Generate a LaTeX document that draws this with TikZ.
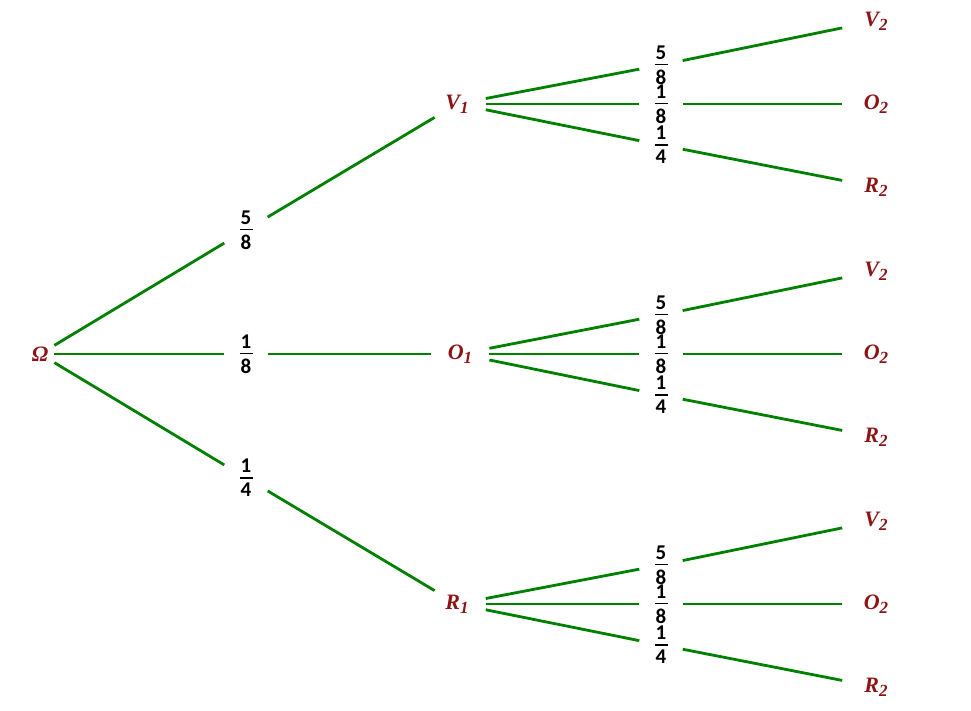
\documentclass[tikz,border=0pt]{standalone}
\usepackage{fontspec}
\setmainfont{Liberation Serif}
\newfontfamily\fracfont{Carlito}

\definecolor{branchgreen}{RGB}{0,128,0}
\definecolor{eventred}{RGB}{140,20,20}

\newcommand{\sub}[1]{\raisebox{-4pt}{\fontsize{17}{17}\selectfont #1}}
\newcommand{\fr}[2]{\vbox{\hbox to 13pt{\hss#1\hss}\kern4.5pt\hrule height 1.6pt\kern4.5pt\hbox to 13pt{\hss#2\hss}}}

\tikzset{
  event/.style={text=eventred,font=\fontsize{22}{24}\selectfont\bfseries\itshape,inner xsep=17pt,inner ysep=4pt},
  leaf/.style={event,inner xsep=22pt},
  prob/.style={font=\fontsize{21}{24}\selectfont\fracfont\bfseries,inner xsep=15pt,inner ysep=0pt},
  branch/.style={draw=branchgreen,line width=2.8pt}
}

\begin{document}
\begin{tikzpicture}[x=1pt,y=-1pt]
  \useasboundingbox (0,0) rectangle (971,711);
  % first draw
  \node[event,inner xsep=6pt] (Om) at (40,354) {Ω};
  \node[event] (V1) at (457,104) {V\sub{1}};
  \node[event] (O1) at (460,354) {O\sub{1}};
  \node[event] (R1) at (457,604) {R\sub{1}};
  \node[prob] (pV1) at (246,230) {\fr{5}{8}};
  \node[prob] (pO1) at (246,354) {\fr{1}{8}};
  \node[prob] (pR1) at (246,478) {\fr{1}{4}};
  \draw[branch] (Om) -- (pV1) -- (V1);
  \draw[branch] (Om) -- (pO1) -- (O1);
  \draw[branch] (Om) -- (pR1) -- (R1);
  % second draw, same for each branch
  \foreach \p/\y in {V1/104,O1/354,R1/604}{
    \node[leaf] (\p-V) at (876,\y-83) {V\sub{2}};
    \node[leaf] (\p-O) at (876,\y) {O\sub{2}};
    \node[leaf] (\p-R) at (876,\y+83) {R\sub{2}};
    \node[prob] (\p-pV) at (661,\y-39) {\fr{5}{8}};
    \node[prob] (\p-pO) at (661,\y) {\fr{1}{8}};
    \node[prob] (\p-pR) at (661,\y+41) {\fr{1}{4}};
    \draw[branch] (\p) -- (\p-pV) -- (\p-V);
    \draw[branch] (\p) -- (\p-pO) -- (\p-O);
    \draw[branch] (\p) -- (\p-pR) -- (\p-R);
  }
\end{tikzpicture}
\end{document}
